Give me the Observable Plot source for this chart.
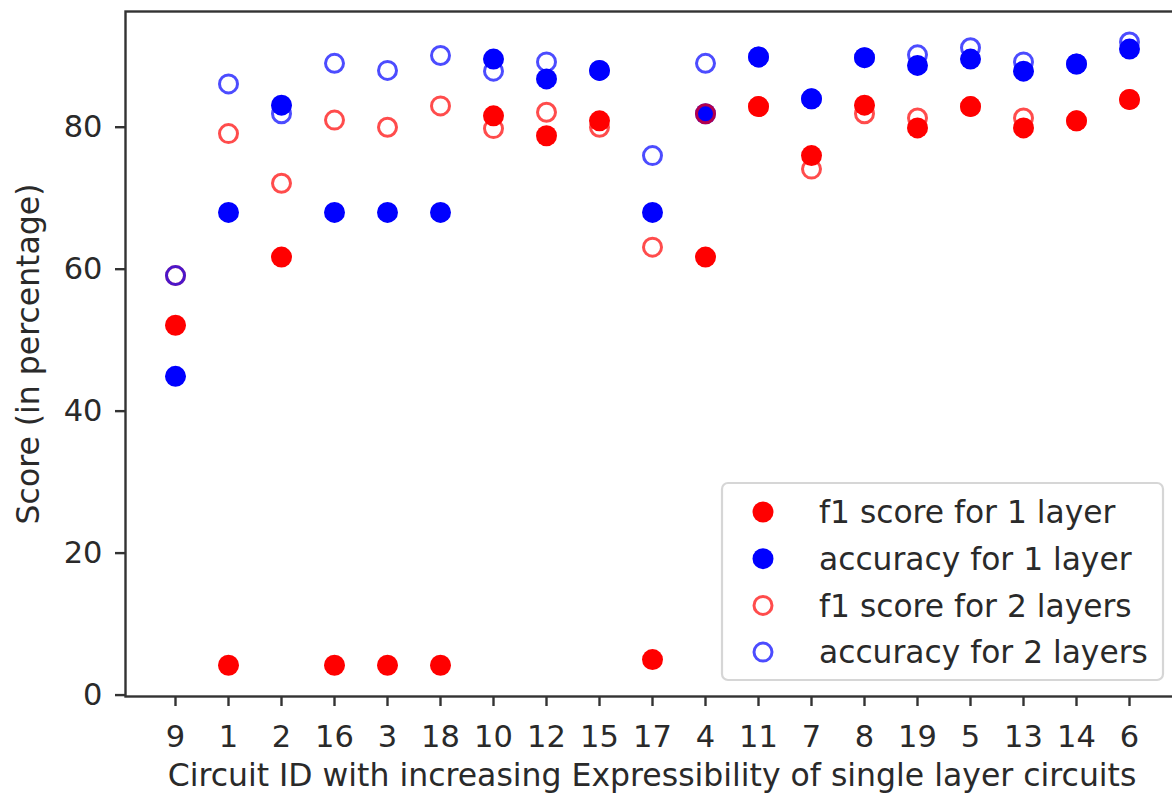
<!DOCTYPE html>
<html>
<head>
<meta charset="utf-8">
<script src="https://cdn.jsdelivr.net/npm/d3@7"></script>
<script src="https://cdn.jsdelivr.net/npm/@observablehq/plot@0.6"></script>
<style>
  html, body { margin: 0; padding: 0; background: white; overflow: hidden; }
  #wrap { position: relative; width: 1172px; height: 796px; overflow: hidden; }
  #wrap > svg.plotsvg { max-width: none !important; }
  #legend { position: absolute; left: 0; top: 0; }
</style>
</head>
<body>
<div id="wrap"></div>
<script>
// Circuit IDs ordered by increasing expressibility
const circuitIds = ["9","1","2","16","3","18","10","12","15","17","4","11","7","8","19","5","13","14","6"];
// f1 score, 1 layer
const f1OneLayer  = [52.1, 4.2, 61.7, 4.2, 4.2, 4.2, 81.6, 78.8, 80.9, 5.0, 61.7, 82.9, 76.0, 83.1, 79.9, 82.9, 79.9, 80.9, 83.9];
// accuracy, 1 layer
const accOneLayer = [44.9, 68.0, 83.1, 68.0, 68.0, 68.0, 89.6, 86.8, 88.0, 68.0, 81.9, 89.9, 84.0, 89.8, 88.7, 89.6, 87.9, 88.9, 91.0];
// f1 score, 2 layers
const f1TwoLayers = [59.1, 79.1, 72.1, 81.0, 80.0, 83.0, 79.8, 82.1, 80.0, 63.1, 81.9, 82.9, 74.1, 81.9, 81.3, 82.9, 81.3, 80.9, 83.9];
// accuracy, 2 layers
const accTwoLayers = [59.1, 86.1, 81.9, 89.0, 88.0, 90.1, 87.9, 89.2, 88.0, 76.0, 89.0, 89.9, 84.0, 89.8, 90.2, 91.2, 89.2, 88.9, 92.0];
const yTicks = [0, 20, 40, 60, 80];
const seriesLabels = ["f1 score for 1 layer", "accuracy for 1 layer", "f1 score for 2 layers", "accuracy for 2 layers"];

const rows = circuitIds.map((id, i) => ({
  id, f1_1: f1OneLayer[i], acc_1: accOneLayer[i], f1_2: f1TwoLayers[i], acc_2: accTwoLayers[i]
}));

const RED = "#ff0000", BLUE = "#0000ff";
const FONT = "DejaVu Sans";
const TEXT = "#2a2a2a";

const chart = Plot.plot({
  width: 1178,
  height: 796,
  marginLeft: 125,
  marginRight: 0,
  marginTop: 11,
  marginBottom: 100,
  style: { fontFamily: FONT, fontSize: "30px", color: TEXT, background: "white", overflow: "visible" },
  x: { type: "point", domain: circuitIds, padding: 0.9 },
  y: { domain: [-0.2, 96.3] },
  marks: [
    Plot.axisX({
      tickSize: 10, tickPadding: 19, fontSize: 30.5, stroke: "#333", strokeWidth: 2.4,
      label: null
    }),
    Plot.axisX({
      ticks: [], tickSize: 0, fontSize: 31.5,
      label: "Circuit ID with increasing Expressibility of single layer circuits",
      labelAnchor: "center", labelArrow: "none", labelOffset: 89
    }),
    Plot.axisY({
      ticks: yTicks, tickSize: 10, tickPadding: 13, fontSize: 30.5, stroke: "#333", strokeWidth: 2.4,
      label: null
    }),
    Plot.axisY({
      ticks: [], tickSize: 0, fontSize: 31.5,
      label: "Score (in percentage)",
      labelAnchor: "center", labelArrow: "none", labelOffset: 109
    }),
    Plot.frame({ stroke: "#333", strokeWidth: 2.4 }),
    Plot.dot(rows, { x: "id", y: "f1_1", r: 10.5, fill: RED, stroke: "none" }),
    Plot.dot(rows, { x: "id", y: "acc_1", r: 10.5, fill: BLUE, stroke: "none" }),
    Plot.dot(rows, { x: "id", y: "f1_2", r: 9, fill: "none", stroke: RED, strokeWidth: 3, strokeOpacity: 0.7 }),
    Plot.dot(rows, { x: "id", y: "acc_2", r: 9, fill: "none", stroke: BLUE, strokeWidth: 3, strokeOpacity: 0.7 })
  ]
});
chart.style.maxWidth = "none";
chart.style.height = "796px";

const wrap = document.getElementById("wrap");
wrap.appendChild(chart);

// Legend (lower right, inside the axes)
const legendStyles = [
  { fill: RED, stroke: "none", r: 10.5, sw: 0, so: 1 },
  { fill: BLUE, stroke: "none", r: 10.5, sw: 0, so: 1 },
  { fill: "none", stroke: RED, r: 9, sw: 3, so: 0.7 },
  { fill: "none", stroke: BLUE, r: 9, sw: 3, so: 0.7 }
];
const lx = 722, ly = 483, lw = 441, lh = 197;
const svg = d3.select(wrap).append("svg")
  .attr("id", "legend")
  .attr("width", 1172).attr("height", 796);
svg.append("rect")
  .attr("x", lx).attr("y", ly).attr("width", lw).attr("height", lh)
  .attr("rx", 6).attr("ry", 6)
  .attr("fill", "white").attr("fill-opacity", 0.85)
  .attr("stroke", "#d6d6d6").attr("stroke-width", 2.2);
seriesLabels.forEach((label, i) => {
  const cy = 512 + i * 46.7;
  const s = legendStyles[i];
  svg.append("circle")
    .attr("cx", 763).attr("cy", cy).attr("r", s.r)
    .attr("fill", s.fill).attr("stroke", s.stroke)
    .attr("stroke-width", s.sw).attr("stroke-opacity", s.so);
  svg.append("text")
    .attr("x", 819).attr("y", cy).attr("dy", "0.36em")
    .attr("font-family", FONT).attr("font-size", 31.3).attr("fill", TEXT)
    .text(label);
});
</script>
</body>
</html>
